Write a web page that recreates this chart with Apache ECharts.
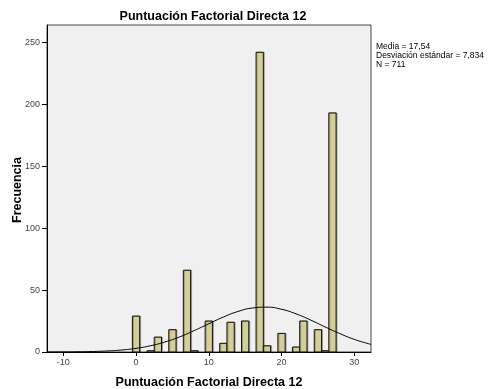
<!DOCTYPE html>
<html>
<head>
<meta charset="utf-8">
<script src="https://cdn.jsdelivr.net/npm/echarts@6/dist/echarts.min.js"></script>
<style>
  html, body { margin: 0; padding: 0; background: #fff; }
  #chart { width: 488px; height: 389px; }
</style>
</head>
<body>
<div id="chart"></div>
<script>
// valores de la puntuacion y frecuencias
const scores = [0, 2, 3, 5, 7, 8, 10, 12, 13, 15, 17, 18, 20, 22, 23, 25, 26, 27]
const counts = [29, 1, 12, 18, 66, 1, 25, 7, 24, 25, 242, 5, 15, 4, 25, 18, 1, 193]

// curva normal
const curveX = [-12.2, -10, -8, -6, -4, -2, 0, 2, 4, 6, 8, 10, 12, 14, 16, 18, 20, 22, 24, 26, 28, 30, 32, 32.3]
const curveY = [0.03, 0.08, 0.18, 0.4, 0.83, 1.6, 2.95, 5.06, 8.13, 12.2, 17.3, 22.8, 28.2, 32.7, 35.5, 36.2, 34.5, 30.8, 25.8, 20.2, 14.9, 10.2, 6.6, 6.1]

const xTicks = [-10, 0, 10, 20, 30]
const yTicks = [0, 50, 100, 150, 200, 250]

const stats = ['Media = 17,54', 'Desviación estándar = 7,834', 'N = 711']

const font = 'Liberation Sans, Arial, sans-serif'
let chart = echarts.init(document.getElementById('chart'))

let barData = scores.map((s, i) => [s, counts[i]])
let lineData = curveX.map((x, i) => [x, curveY[i]])

chart.setOption({
  animation: false,
  title: {
    text: 'Puntuación Factorial Directa 12',
    left: 208,
    textAlign: 'center',
    top: 5,
    textStyle: { fontFamily: font, fontSize: 12.5, fontWeight: 'bold', color: '#000' }
  },
  grid: {
    left: 47, right: 117, top: 25, bottom: 37,
    outerBoundsMode: 'none',
    containLabel: false,
    show: true,
    backgroundColor: '#F0F0F0',
    borderColor: '#444',
    borderWidth: 1
  },
  xAxis: {
    type: 'value',
    min: -12.24,
    max: 32.3,
    name: 'Puntuación Factorial Directa 12',
    nameLocation: 'middle',
    nameGap: 24,
    nameTextStyle: { fontFamily: font, fontSize: 12.5, fontWeight: 'bold', color: '#000' },
    axisLine: { show: true, onZero: false, lineStyle: { color: '#000' } },
    axisTick: { show: true, length: 4, customValues: xTicks, lineStyle: { color: '#000' } },
    axisLabel: { customValues: xTicks, margin: 6, fontFamily: font, fontSize: 9, color: '#444' },
    splitLine: { show: false }
  },
  yAxis: {
    type: 'value',
    min: 0,
    max: 264,
    axisLine: { show: true, onZero: false, lineStyle: { color: '#000' } },
    axisTick: { show: true, length: 5, customValues: yTicks, lineStyle: { color: '#000' } },
    axisLabel: { customValues: yTicks, margin: 7, fontFamily: font, fontSize: 9, color: '#444' },
    splitLine: { show: false }
  },
  series: [
    {
      type: 'custom',
      data: barData,
      renderItem: function(params, api) {
        let x = api.value(0)
        let y = api.value(1)
        let p0 = api.coord([x - 0.5, y])
        let p1 = api.coord([x + 0.5, 0])
        return {
          type: 'rect',
          shape: { x: p0[0], y: p0[1], width: p1[0] - p0[0], height: p1[1] - p0[1] },
          style: {
            fill: '#D4CF99',
            stroke: '#111',
            lineWidth: 1,
            shadowColor: 'rgba(0,0,0,0.25)',
            shadowOffsetX: 1,
            shadowOffsetY: 0
          }
        }
      }
    },
    {
      type: 'line',
      data: lineData,
      smooth: true,
      showSymbol: false,
      lineStyle: { color: '#000', width: 1 },
      z: 3
    }
  ],
  graphic: [
    {
      type: 'text',
      x: 17.5,
      y: 190,
      rotation: Math.PI / 2,
      style: {
        text: 'Frecuencia',
        fontFamily: font,
        fontSize: 12.5,
        fontWeight: 'bold',
        fill: '#000',
        align: 'center',
        verticalAlign: 'middle'
      }
    },
    {
      type: 'text',
      left: 376,
      top: 42,
      style: {
        text: stats.join('\n'),
        fontFamily: font,
        fontSize: 8.5,
        lineHeight: 9,
        fill: '#000'
      }
    }
  ]
})
</script>
</body>
</html>
